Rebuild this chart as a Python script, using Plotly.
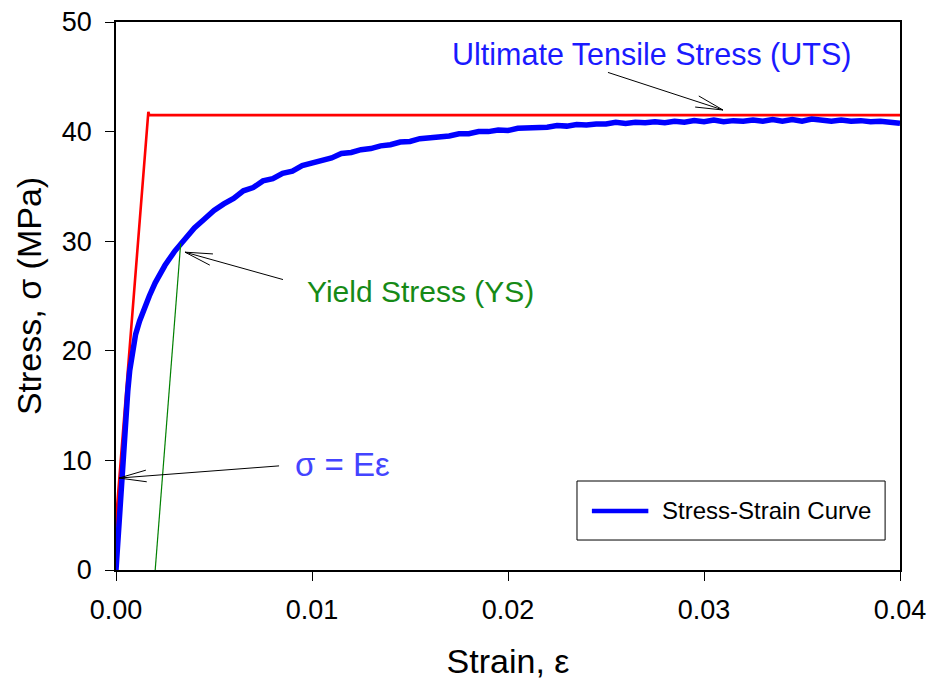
import math
import plotly.graph_objects as go

# Stress-strain curve
strain = [0, 0.0001, 0.0002, 0.0003, 0.0004, 0.0005, 0.0006, 0.0007, 0.0008, 0.0009,
          0.0010, 0.0012, 0.0014, 0.0017, 0.0020, 0.0025, 0.0030, 0.0035, 0.0040,
          0.0045, 0.0050, 0.0055, 0.0060, 0.0065, 0.0070, 0.0075, 0.0080, 0.0085,
          0.0090, 0.0095, 0.0100, 0.0105, 0.0110, 0.0115, 0.0120, 0.0125, 0.0130,
          0.0135, 0.0140, 0.0145, 0.0150, 0.0155, 0.0160, 0.0165, 0.0170, 0.0175,
          0.0180, 0.0185, 0.0190, 0.0195, 0.0200, 0.0205, 0.0210, 0.0215, 0.0220,
          0.0225, 0.0230, 0.0235, 0.0240, 0.0245, 0.0250, 0.0255, 0.0260, 0.0265,
          0.0270, 0.0275, 0.0280, 0.0285, 0.0290, 0.0295, 0.0300, 0.0305, 0.0310,
          0.0315, 0.0320, 0.0325, 0.0330, 0.0335, 0.0340, 0.0345, 0.0350, 0.0355,
          0.0360, 0.0365, 0.0370, 0.0375, 0.0380, 0.0385, 0.0390, 0.0395, 0.0400]
stress = [0, 3.0, 6.0, 8.8, 11.5, 14.0, 16.3, 18.2, 19.6, 20.7,
          21.5, 22.7, 23.7, 25.0, 26.2, 27.8, 29.1, 30.2, 31.2,
          32.0, 32.8, 33.4, 33.9, 34.6, 34.9, 35.5, 35.7, 36.2,
          36.4, 36.9, 37.1, 37.4, 37.6, 38.0, 38.1, 38.35, 38.45,
          38.7, 38.8, 39.05, 39.1, 39.35, 39.4, 39.55, 39.6, 39.8,
          39.8, 40.0, 40.0, 40.15, 40.1, 40.3, 40.3, 40.4, 40.4,
          40.55, 40.5, 40.65, 40.6, 40.7, 40.7, 40.85, 40.75, 40.85,
          40.8, 40.9, 40.8, 40.95, 40.85, 41.0, 40.9, 41.05, 40.9,
          41.0, 40.95, 41.05, 40.95, 41.1, 40.95, 41.1, 40.95, 41.15,
          41.0, 40.95, 41.05, 40.95, 41.0, 40.9, 40.95, 40.85, 40.75]

# Red idealised line (elastic + UTS level)
red_x = [-0.0002, 0.00165, 0.0017, 0.04]
red_y = [0, 41.8, 41.5, 41.5]

# Green 0.2% offset line
green_x = [0.002, 0.0033]
green_y = [0, 29.8]

x_ticks = [0, 0.01, 0.02, 0.03, 0.04]
y_ticks = [0, 10, 20, 30, 40, 50]
series_name = "Stress-Strain Curve"

# Annotation texts and arrows (tail -> tip, data coords)
uts_text = "Ultimate Tensile Stress (UTS)"
ys_text = "Yield Stress (YS)"
hooke_text = "σ = Eε"
arrows = [((0.0251, 45.4), (0.03097, 41.97)),
          ((0.00852, 26.5), (0.00352, 29.0)),
          ((0.00832, 9.5), (0.000153, 8.39))]

X_RANGE = [0, 0.04]
Y_RANGE = [0, 50]
W, H = 927, 681
ML, MR, MT, MB = 116, 27, 22, 111
PW, PH = W - ML - MR, H - MT - MB
sx = PW / (X_RANGE[1] - X_RANGE[0])
sy = PH / (Y_RANGE[1] - Y_RANGE[0])

fig = go.Figure()
fig.add_trace(go.Scatter(x=red_x, y=red_y, mode="lines",
                         line=dict(color="#ff0000", width=2.6), showlegend=False, hoverinfo="skip"))
fig.add_trace(go.Scatter(x=strain, y=stress, mode="lines", name=series_name, showlegend=False,
                         line=dict(color="#0000ff", width=5.5)))
fig.add_trace(go.Scatter(x=green_x, y=green_y, mode="lines",
                         line=dict(color="#008000", width=1.2), showlegend=False, hoverinfo="skip"))

font = "Liberation Sans, Arial, sans-serif"

fig.add_annotation(x=0.0273, y=47.0, xref="x", yref="y", text=uts_text,
                   showarrow=False, font=dict(size=30.5, color="#1a1aff", family=font))
fig.add_annotation(x=0.01556, y=25.4, xref="x", yref="y", text=ys_text,
                   showarrow=False, font=dict(size=30, color="#168a16", family=font))
fig.add_annotation(x=0.01155, y=9.6, xref="x", yref="y", text=hooke_text,
                   showarrow=False, font=dict(size=33, color="#4444ff", family=font))

# Arrows with open V heads
HEAD_LEN = 28
HEAD_ANG = math.radians(12)
for (tx, ty), (hx, hy) in arrows:
    fig.add_shape(type="line", xref="x", yref="y", x0=tx, y0=ty, x1=hx, y1=hy,
                  line=dict(color="black", width=1))
    dxp = (tx - hx) * sx
    dyp = (ty - hy) * sy
    ang = math.atan2(dyp, dxp)
    for s in (-1, 1):
        a = ang + s * HEAD_ANG
        bx = hx + HEAD_LEN * math.cos(a) / sx
        by = hy + HEAD_LEN * math.sin(a) / sy
        fig.add_shape(type="line", xref="x", yref="y", x0=hx, y0=hy, x1=bx, y1=by,
                      line=dict(color="black", width=1))

# Legend box drawn manually (paper coords)
fig.add_shape(type="rect", xref="paper", yref="paper", x0=0.588, x1=0.981, y0=0.0547, y1=0.1624,
              line=dict(color="black", width=1), fillcolor="white", layer="above")
fig.add_shape(type="line", xref="paper", yref="paper", x0=0.607, x1=0.679, y0=0.1077, y1=0.1077,
              line=dict(color="#0000ff", width=4.5), layer="above")
fig.add_annotation(x=0.694, y=0.1077, xref="paper", yref="paper", xanchor="left", yanchor="middle",
                   text=series_name, showarrow=False, font=dict(size=24, color="black", family=font))

fig.update_layout(
    width=W, height=H,
    margin=dict(l=ML, r=MR, t=MT, b=MB, autoexpand=False),
    plot_bgcolor="white", paper_bgcolor="white",
    font=dict(family=font, color="black"),
    showlegend=False,
    xaxis=dict(range=X_RANGE, tickvals=x_ticks, tickformat=".2f", automargin=False,
               showgrid=False, zeroline=False, showline=True, linecolor="black", linewidth=1.5,
               mirror=True, ticks="outside", ticklen=9, tickcolor="black", tickwidth=1.2,
               tickfont=dict(size=27, family=font), ticklabelstandoff=6,
               title=dict(text="Strain, ε", font=dict(size=34, family=font), standoff=25)),
    yaxis=dict(range=Y_RANGE, tickvals=y_ticks, automargin=False,
               showgrid=False, zeroline=False, showline=True, linecolor="black", linewidth=1.5,
               mirror=True, ticks="outside", ticklen=9, tickcolor="black", tickwidth=1.2,
               tickfont=dict(size=27, family=font), ticklabelstandoff=8,
               title=dict(text="Stress, σ (MPa)", font=dict(size=34, family=font), standoff=10)),
)

fig.write_html("out.html")
